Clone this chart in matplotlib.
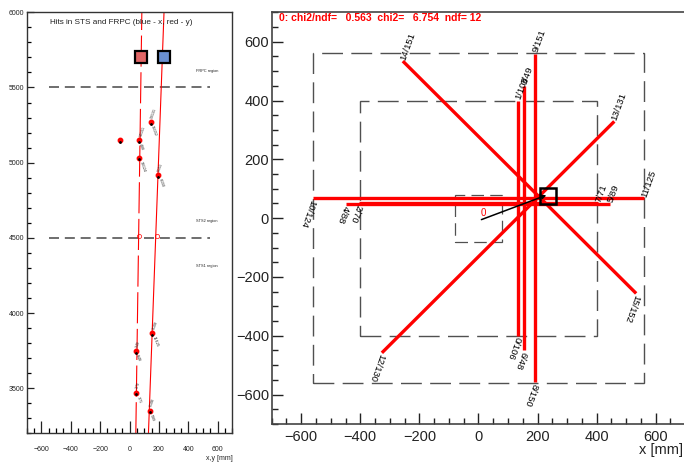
import matplotlib
matplotlib.use('Agg')
import matplotlib.pyplot as plt
from matplotlib.ticker import MultipleLocator
from matplotlib.patches import Rectangle

plt.rcParams['font.family'] = ['Liberation Sans', 'DejaVu Sans']

# ---------------- left panel data (z vs x/y) ----------------
hit_x = [-63, 66, 145, 66, 195, 156, 45, 45, 138]
hit_z = [5150, 5150, 5268, 5034, 4917, 3865, 3747, 3469, 3349]
hit_lab_up = ['', '14/151', '13/131', '', '9/151', '1/108', '3/49', '2/70', '0/106']
hit_lab_dn = ['', '4/88', '15/152', '10/124', '8/150', '11/125', '6/48', '7/71', '5/89']

track_z = [3200, 6000]
track_x = [129, 235]      # x projection (solid)
track_y = [43, 84]        # y projection (dashed)
exit_z = 4515
exit_x = 190
exit_y = 68

region_line_z = [5500, 4500]
region_line_x = [-550, 550]
region_names = ['FRPC region', 'STS2 region', 'STS1 region']
region_text_z = [5611, 4609, 4311]
region_text_x = 455

sq_z = 5700
sq_x = 233
sq_y = 79

# ---------------- right panel data (x-y plane) ----------------
# strips: "top" end (label drawn at 70 deg) and "bottom" end (label at 250 deg)
lab_top = ['1/108', '3/49', '9/151', '11/125', '5/89', '7/71', '14/151', '13/131']
lab_bot = ['0/106', '6/48', '8/150', '10/124', '4/88', '2/70', '15/152', '12/130']
top_end_x = [133, 155, 192, 560, 446, 405, -256, 460]
top_end_y = [400, 450, 558, 67, 48, 50, 534, 329]
bot_end_x = [133, 155, 192, -560, -448, -405, 534, -327]
bot_end_y = [-400, -450, -558, 67, 48, 50, -256, -458]

station_half = [560, 400, 80]
fit_x, fit_y = 234, 75
arrow_x0, arrow_y0 = 10, -5
chi2_text = '0: chi2/ndf=   0.563  chi2=   6.754  ndf= 12'

W, H = 684, 462
fig = plt.figure(figsize=(W / 100, H / 100), dpi=100)

# ---------------- left panel ----------------
axL = fig.add_axes([26.7 / W, 1 - 433.3 / H, (232.3 - 26.7) / W, (433.3 - 12.3) / H])
axL.set_xlim(-700, 700)
axL.set_ylim(3200, 6000)
for z in region_line_z:
    axL.plot(region_line_x, [z, z], color='#555555', lw=1.2, dashes=(6, 3.5))
for name, z in zip(region_names, region_text_z):
    axL.text(region_text_x, z, name, fontsize=2.8, color='#222222', va='center', ha='left')
axL.plot(track_x, track_z, color='red', lw=0.8)
axL.plot(track_y, track_z, color='red', lw=0.8, dashes=(28, 5))
axL.plot([exit_x, exit_y], [exit_z, exit_z], ls='none', marker='o', ms=3, mfc='none', mec='red', mew=0.5)
axL.plot(hit_x, hit_z, ls='none', marker='o', ms=3.2, color='red')
axL.plot(hit_x, [z - 10 for z in hit_z], ls='none', marker='o', ms=1.0, color='black')
for x, z, lu, ld in zip(hit_x, hit_z, hit_lab_up, hit_lab_dn):
    if lu:
        axL.text(x + 8, z + 25, lu, fontsize=2.6, rotation=70, rotation_mode='anchor',
                 ha='left', va='center', color='#222222')
    if ld:
        axL.text(x + 8, z - 25, ld, fontsize=2.6, rotation=-70, rotation_mode='anchor',
                 ha='left', va='center', color='#222222')
axL.plot([sq_y], [sq_z], marker='s', ms=8, mfc='#e06666', mec='black', mew=1.6)
axL.plot([sq_x], [sq_z], marker='s', ms=8, mfc='#6a8fd0', mec='black', mew=1.6)
axL.text(-538, 5935, 'Hits in STS and FRPC (blue - x, red - y)', fontsize=5.9,
         color='#222222', ha='left', va='center')
axL.xaxis.set_major_locator(MultipleLocator(200))
axL.xaxis.set_minor_locator(MultipleLocator(50))
axL.yaxis.set_major_locator(MultipleLocator(500))
axL.yaxis.set_minor_locator(MultipleLocator(100))
axL.tick_params(axis='x', which='major', direction='in', length=8.4, width=0.9, labelsize=5, pad=9)
axL.tick_params(axis='x', which='minor', direction='in', length=3.6, width=0.9)
axL.tick_params(axis='y', which='major', direction='in', length=5, width=0.9, labelsize=5, pad=2)
axL.tick_params(axis='y', which='minor', direction='in', length=2.8, width=0.9)
axL.tick_params(colors='#222222')
for s in axL.spines.values():
    s.set_color('#333333')
    s.set_linewidth(1.0)
axL.text(1.0, -0.06, 'x,y [mm]', transform=axL.transAxes, fontsize=5, ha='right', va='center',
         color='#222222')

# ---------------- right panel ----------------
axR = fig.add_axes([271.7 / W, 1 - 424 / H, (685.2 - 271.7) / W, (424 - 12.3) / H])
axR.set_xlim(-700, 700)
axR.set_ylim(-700, 700)
dash_specs = [(15, 6), (15, 6), (10, 5)]
lws = [1.0, 1.0, 0.9]
for h, dsp, lw in zip(station_half, dash_specs, lws):
    axR.add_patch(Rectangle((-h, -h), 2 * h, 2 * h, fill=False, edgecolor='#505050',
                            lw=lw, linestyle=(0, dsp)))
for x0, y0, x1, y1 in zip(top_end_x, top_end_y, bot_end_x, bot_end_y):
    axR.plot([x0, x1], [y0, y1], color='red', lw=2.4, solid_capstyle='butt')
for x, y, t in zip(top_end_x, top_end_y, lab_top):
    axR.text(x, y + 5, t, fontsize=6.8, rotation=70, rotation_mode='anchor',
             ha='left', va='center', color='black')
for x, y, t in zip(bot_end_x, bot_end_y, lab_bot):
    axR.text(x, y - 5, t, fontsize=6.8, rotation=250, rotation_mode='anchor',
             ha='left', va='center', color='black')
axR.annotate('', xy=(fit_x - 4, fit_y + 3), xytext=(arrow_x0, arrow_y0),
             arrowprops=dict(arrowstyle='-|>', color='black', lw=1.1, mutation_scale=6,
                             shrinkA=0, shrinkB=0))
axR.text(arrow_x0 - 4, arrow_y0 + 5, '0', fontsize=7, color='red', ha='left', va='bottom')
axR.plot([fit_x], [fit_y], marker='s', ms=11, mfc='none', mec='black', mew=1.8)
axR.text(-675, 680, chi2_text, fontsize=7.5, fontweight='bold', color='red',
         ha='left', va='center')
axR.xaxis.set_major_locator(MultipleLocator(200))
axR.xaxis.set_minor_locator(MultipleLocator(50))
axR.yaxis.set_major_locator(MultipleLocator(200))
axR.yaxis.set_minor_locator(MultipleLocator(50))
axR.tick_params(which='major', direction='in', length=8.2, width=1.0, labelsize=10.5,
                colors='#222222')
axR.tick_params(which='minor', direction='in', length=4.0, width=1.0, colors='#222222')
axR.tick_params(axis='x', pad=4)
axR.tick_params(axis='y', pad=2)
for s in axR.spines.values():
    s.set_color('#444444')
    s.set_linewidth(1.2)
fig.text(683 / W, 1 - 450 / H, 'x [mm]', fontsize=10.5, ha='right', va='center', color='#222222')

fig.savefig('out.png', dpi=100)
